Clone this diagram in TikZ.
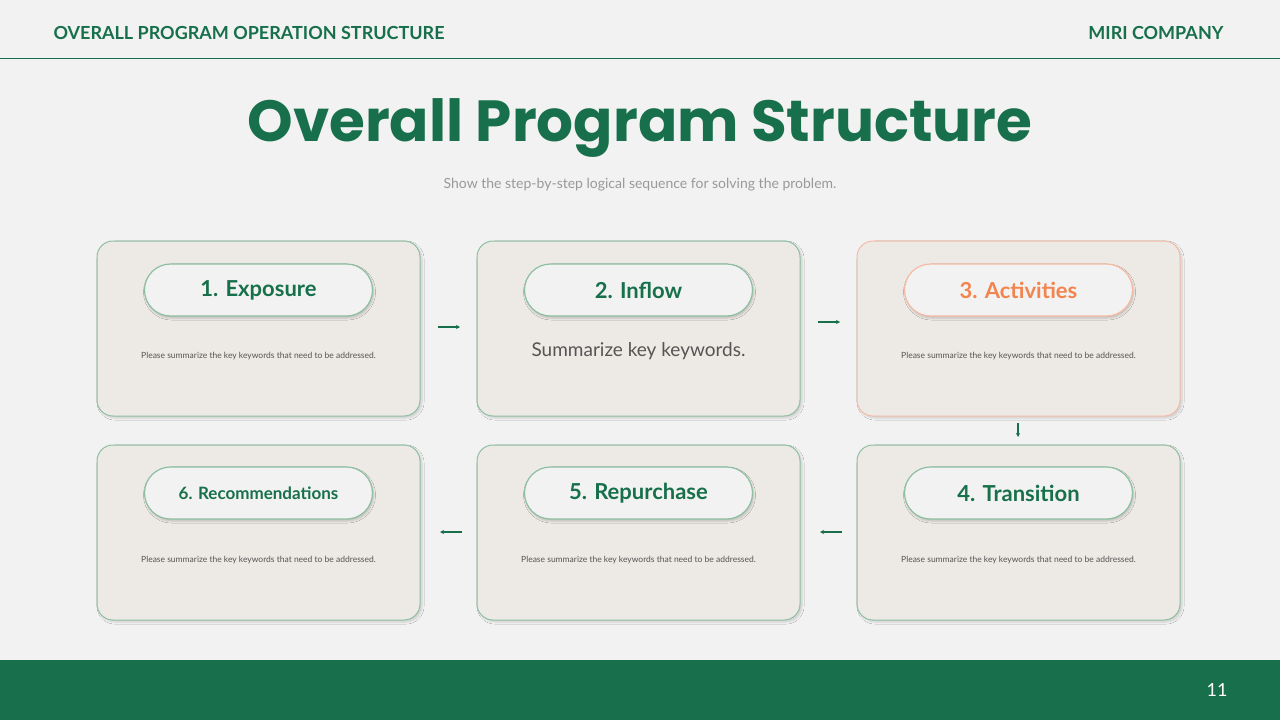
\documentclass[tikz,border=0pt]{standalone}
\usepackage{fontspec}
\setmainfont{Lato}
\newfontfamily\titlefont{Poppins}
\usetikzlibrary{arrows.meta,shadows.blur}
\definecolor{mgreen}{HTML}{17704B}
\definecolor{bgc}{HTML}{F2F2F2}
\definecolor{boxf}{HTML}{EDE9E4}
\definecolor{boxb}{HTML}{8DBFA3}
\definecolor{morange}{HTML}{F2844E}
\definecolor{oborder}{HTML}{F5BBA5}
\definecolor{txtg}{HTML}{555555}
\tikzset{
 card/.style={draw=boxb,line width=1pt,fill=boxf,rounded corners=16pt,minimum width=323pt,minimum height=175pt,blur shadow={shadow blur steps=6,shadow xshift=2pt,shadow yshift=-2pt,shadow opacity=15}},
 pill/.style={draw=boxb,line width=1.2pt,fill=bgc,rounded corners=26pt,minimum width=228pt,minimum height=52pt,font=\fontsize{22}{24}\selectfont\bfseries,text=mgreen,blur shadow={shadow blur steps=5,shadow xshift=1pt,shadow yshift=-2pt,shadow opacity=20}},
 desc/.style={font=\fontsize{8.5}{10}\selectfont,text=txtg},
 arr/.style={-{Stealth[length=4pt,width=4pt]},draw=mgreen,line width=1.2pt}
}
\begin{document}
\begin{tikzpicture}[x=1pt,y=-1pt]
\fill[bgc] (0,0) rectangle (1280,720);
\useasboundingbox (0,0) rectangle (1280,720);
\node[anchor=west,text=mgreen,font=\fontsize{18}{20}\selectfont\bfseries] (hl) at (50,33) {OVERALL PROGRAM OPERATION STRUCTURE};
\node[anchor=east,text=mgreen,font=\fontsize{18}{20}\selectfont\bfseries] (hr) at (1227,33) {MIRI COMPANY};
\draw[mgreen,line width=1pt] (0,58) -- (1280,58);
\node[text=mgreen,font=\titlefont\fontsize{58}{60}\selectfont\bfseries] (title) at (640,128) {Overall Program Structure};
\node[text=gray!80,font=\fontsize{14}{16}\selectfont] (sub) at (640,185) {Show the step-by-step logical sequence for solving the problem.};
% cards
\node[card] (c1) at (258.5,328.5) {};
\node[card] (c2) at (638.5,328.5) {};
\node[card,draw=oborder] (c3) at (1018.5,328.5) {};
\node[card] (c6) at (258.5,532.5) {};
\node[card] (c5) at (638.5,532.5) {};
\node[card] (c4) at (1018.5,532.5) {};
\node[pill] (p1) at (258.5,290) {1. Exposure};
\node[pill] (p2) at (638.5,290) {2. Inflow};
\node[pill,draw=oborder,text=morange] (p3) at (1018.5,290) {3. Activities};
\node[pill,font=\fontsize{17}{20}\selectfont\bfseries] (p6) at (258.5,493) {6. Recommendations};
\node[pill] (p5) at (638.5,493) {5. Repurchase};
\node[pill] (p4) at (1018.5,493) {4. Transition};
\node[desc] (d1) at (258.5,356) {Please summarize the key keywords that need to be addressed.};
\node[font=\fontsize{19}{22}\selectfont,text=txtg] (d2) at (638.5,351) {Summarize key keywords.};
\node[desc] (d3) at (1018.5,356) {Please summarize the key keywords that need to be addressed.};
\node[desc] (d6) at (258.5,560) {Please summarize the key keywords that need to be addressed.};
\node[desc] (d5) at (638.5,560) {Please summarize the key keywords that need to be addressed.};
\node[desc] (d4) at (1018.5,560) {Please summarize the key keywords that need to be addressed.};
% arrows
\coordinate (a1s) at (438,327); \coordinate (a1e) at (460,327);
\coordinate (a2s) at (818,322); \coordinate (a2e) at (840,322);
\coordinate (a3s) at (1018,423); \coordinate (a3e) at (1018,437);
\coordinate (a4s) at (842,532); \coordinate (a4e) at (820,532);
\coordinate (a5s) at (462,532); \coordinate (a5e) at (440,532);
\draw[arr] (a1s) -- (a1e);
\draw[arr] (a2s) -- (a2e);
\draw[arr] (a3s) -- (a3e);
\draw[arr] (a4s) -- (a4e);
\draw[arr] (a5s) -- (a5e);
\fill[mgreen] (0,660) rectangle (1280,720);
\node[text=white,font=\fontsize{18}{20}\selectfont] (pg) at (1217,690) {11};
\end{tikzpicture}
\end{document}
